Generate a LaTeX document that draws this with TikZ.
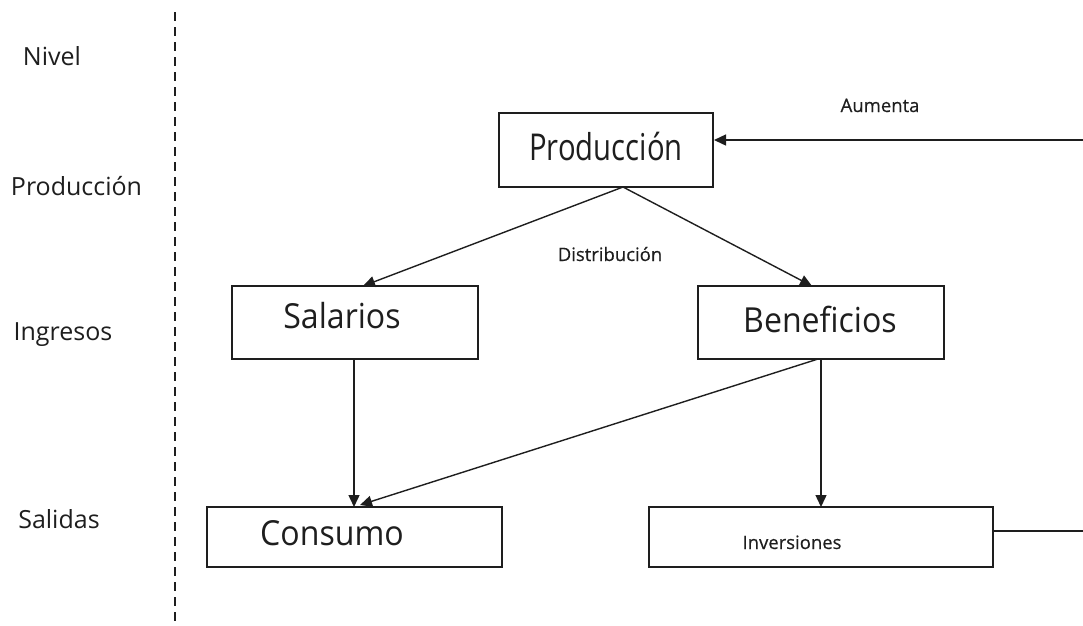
\documentclass[tikz,border=0pt]{standalone}
\usepackage{fontspec}
\setmainfont{Open Sans}
\newfontfamily\prodfont[FakeStretch=0.79]{Open Sans}
\newfontfamily\condfont[FakeStretch=0.93]{Open Sans}
\newfontfamily\smallfont[FakeBold=0.4]{Open Sans}
\usetikzlibrary{arrows.meta}
\definecolor{ink}{HTML}{1E1E1E}
\begin{document}
\begin{tikzpicture}[x=1pt,y=-1pt,
  box/.style={draw=ink, line width=1.6pt, inner sep=0pt},
  bigtxt/.style={anchor=base, inner sep=0pt, text=ink, font=\condfont\fontsize{34.5}{38}\selectfont},
  prodtxt/.style={anchor=base, inner sep=0pt, text=ink, font=\prodfont\fontsize{37}{40}\selectfont},
  smalltxt/.style={anchor=base, inner sep=0pt, text=ink, font=\smallfont\fontsize{18.5}{22}\selectfont},
  lvl/.style={anchor=base, inner sep=0pt, text=ink, font=\fontsize{25}{28}\selectfont},
  conn/.style={draw=ink, line width=1.4pt, -{Triangle[length=12pt,width=11pt]}},
  plain/.style={draw=ink, line width=1.4pt}
]
\useasboundingbox (0,0) rectangle (1083,625);
% level labels
\node[lvl] (lnivel) at (52,65) {Nivel};
\node[lvl] (lprod) at (76.5,195) {Producción};
\node[lvl] (ling) at (63,340) {Ingresos};
\node[lvl] (lsal) at (59,528) {Salidas};
\coordinate (dtop) at (175,12);
\coordinate (dbot) at (175,625);
\draw[ink, line width=1.9pt, dash pattern=on 9pt off 6pt] (dtop) -- (dbot);
% boxes
\node[box, minimum width=214pt, minimum height=74pt] (prod) at (606,150) {};
\node[box, minimum width=246pt, minimum height=73pt] (sal) at (355,322.5) {};
\node[box, minimum width=246pt, minimum height=73pt] (ben) at (821,322.5) {};
\node[box, minimum width=295pt, minimum height=60pt] (cons) at (354.5,537) {};
\node[box, minimum width=344pt, minimum height=60pt] (inv) at (821,537) {};
% box texts
\node[prodtxt] (tprod) at (606,160) {Producción};
\node[bigtxt] (tsal) at (342,328) {Salarios};
\node[bigtxt] (tben) at (820,332) {Beneficios};
\node[bigtxt] (tcons) at (332,545) {Consumo};
\node[smalltxt] (tinv) at (792,549) {Inversiones};
\node[smalltxt] (taum) at (880,112) {Aumenta};
\node[smalltxt] (tdist) at (610,261) {Distribución};
% connectors
\coordinate (pb) at (623,187);
\coordinate (salin) at (363,286);
\coordinate (benin) at (812,286);
\coordinate (salout) at (354,359);
\coordinate (consin1) at (354,507);
\coordinate (benout) at (818,359);
\coordinate (consin2) at (360,505);
\coordinate (benout2) at (821,359);
\coordinate (invin) at (821,507);
\coordinate (invout) at (993,531);
\coordinate (redge1) at (1083,531);
\coordinate (redge2) at (1083,140);
\coordinate (prodin) at (714,140);
\draw[conn] (pb) -- (salin);
\draw[conn] (pb) -- (benin);
\draw[conn] (salout) -- (consin1);
\draw[conn] (benout) -- (consin2);
\draw[conn] (benout2) -- (invin);
\draw[plain] (invout) -- (redge1);
\draw[conn] (redge2) -- (prodin);
\end{tikzpicture}
\end{document}
